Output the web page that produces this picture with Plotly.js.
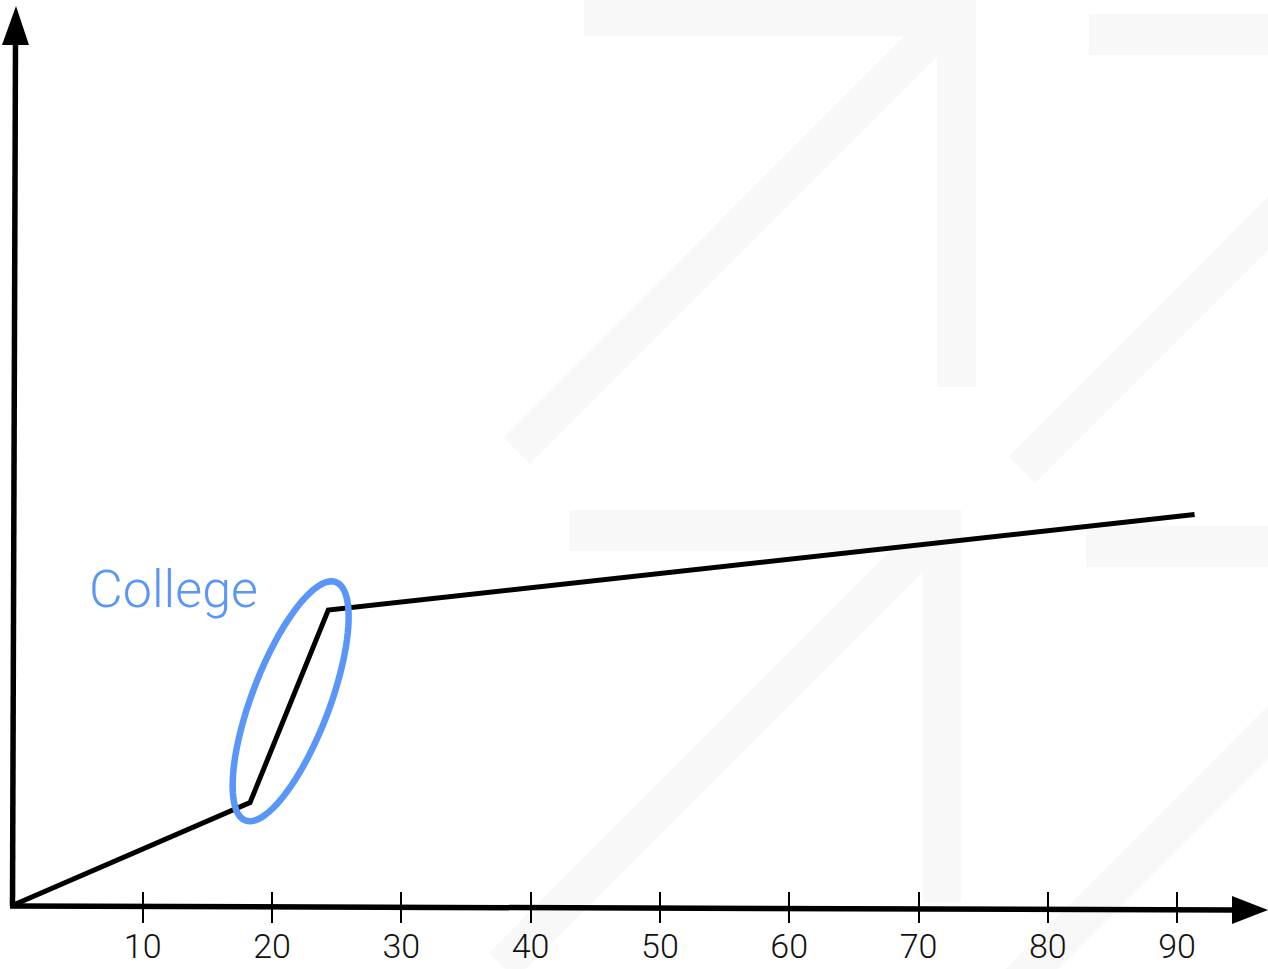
<!DOCTYPE html>
<html>
<head>
<meta charset="utf-8">
<script src="https://cdn.plot.ly/plotly-3.0.1.min.js"></script>
<style>html,body{margin:0;padding:0;background:#fff;}#chart{width:1268px;height:969px;}</style>
</head>
<body>
<div id="chart"></div>
<script>
// ---- data ----
const age = [0, 18.3, 24.35, 91.35];
const earnings = [0, 8.0, 23.05, 30.5];
const tickValues = [10, 20, 30, 40, 50, 60, 70, 80, 90];
const tickLabels = ['10', '20', '30', '40', '50', '60', '70', '80', '90'];
const highlightLabel = 'College';
const highlightSegment = [1, 2]; // indexes of the segment circled

// ---- geometry ----
const W = 1268, H = 969;
const M = {l: 0, r: 0, t: 0, b: 62};
const PW = W - M.l - M.r, PH = H - M.t - M.b;
const xr = [-13.4 / 12.93, (W - 13.4) / 12.93];
const yr = [-(PH - 905) / 12.8, 905 / 12.8];
const blue = '#5a96fa';

const px2x = px => (px - M.l) / PW;           // pixel -> paper
const py2y = py => (M.t + PH - py) / PH;
const dx2px = x => M.l + (x - xr[0]) / (xr[1] - xr[0]) * PW; // data -> pixel
const dy2py = y => M.t + PH - (y - yr[0]) / (yr[1] - yr[0]) * PH;

function polyPath(pts) {
  return 'M ' + pts.map(p => px2x(p[0]).toFixed(5) + ',' + py2y(p[1]).toFixed(5)).join(' L ') + ' Z';
}

// watermark arrows (decorative background)
const arrowBase = [[584,-5],[976,-5],[976,387],[937,387],[937,57],[530,464],[503.6,437.7],[904.6,36],[584,36]];
const arrowOffsets = [[0,0],[505,19],[-14.5,515],[502,531]];
const shapes = arrowOffsets.map(o => ({
  type: 'path', xref: 'paper', yref: 'paper', layer: 'below',
  path: polyPath(arrowBase.map(p => [p[0] + o[0], p[1] + o[1]])),
  fillcolor: '#f8f8f8', line: {width: 0}
}));

// hand-drawn axes
shapes.push({type: 'line', xref: 'paper', yref: 'paper', x0: px2x(12.5), y0: py2y(906), x1: px2x(15.5), y1: py2y(40), line: {color: '#000', width: 5.5}});
shapes.push({type: 'path', xref: 'paper', yref: 'paper', path: polyPath([[16,6],[2,45],[29,45]]), fillcolor: '#000', line: {width: 0}});
shapes.push({type: 'line', xref: 'paper', yref: 'paper', x0: px2x(10), y0: py2y(906), x1: px2x(1236), y1: py2y(910), line: {color: '#000', width: 5.5}});
shapes.push({type: 'path', xref: 'paper', yref: 'paper', path: polyPath([[1268,910],[1232,896],[1232,924]]), fillcolor: '#000', line: {width: 0}});

// ellipse around the college segment
(function () {
  const i0 = highlightSegment[0], i1 = highlightSegment[1];
  const ax = dx2px(age[i0]), ay = dy2py(earnings[i0]);
  const bx = dx2px(age[i1]), by = dy2py(earnings[i1]);
  const cx = (ax + bx) / 2 + 1.5, cy = (ay + by) / 2 - 5;
  const phi = 20.8 * Math.PI / 180, a = 127.5, b = 38.8;
  const u = [Math.sin(phi), -Math.cos(phi)], v = [Math.cos(phi), Math.sin(phi)];
  const pts = [];
  for (let k = 0; k < 96; k++) {
    const t = 2 * Math.PI * k / 96;
    pts.push([cx + a * Math.cos(t) * u[0] + b * Math.sin(t) * v[0], cy + a * Math.cos(t) * u[1] + b * Math.sin(t) * v[1]]);
  }
  shapes.push({type: 'path', xref: 'paper', yref: 'paper', path: polyPath(pts), line: {color: blue, width: 6.5}, fillcolor: 'rgba(0,0,0,0)'});
})();

const traces = [
  {x: age, y: earnings, type: 'scatter', mode: 'lines', line: {color: '#000', width: 5}, cliponaxis: false, hoverinfo: 'skip', showlegend: false},
  {x: [], y: [], xaxis: 'x2', type: 'scatter', mode: 'lines', showlegend: false}
];

const tickFont = {family: 'Roboto, "Liberation Sans", sans-serif', size: 34, color: '#111', weight: 300};
const layout = {
  width: W, height: H, margin: M,
  paper_bgcolor: '#fff', plot_bgcolor: 'rgba(0,0,0,0)',
  showlegend: false,
  xaxis: {range: xr, tickmode: 'array', tickvals: tickValues, ticktext: tickLabels, ticks: 'outside', ticklen: 15, tickwidth: 2, tickcolor: '#000',
          ticklabelstandoff: -6,
          showline: false, showgrid: false, zeroline: false, tickfont: tickFont, fixedrange: true},
  xaxis2: {range: xr, overlaying: 'x', anchor: 'y', side: 'bottom', tickmode: 'array', tickvals: tickValues, ticks: 'inside', ticklen: 15, tickwidth: 2, tickcolor: '#000',
           showticklabels: false, showline: false, showgrid: false, zeroline: false, fixedrange: true},
  yaxis: {range: yr, visible: true, showticklabels: false, ticks: '', showline: false, showgrid: false, zeroline: false, fixedrange: true},
  shapes: shapes,
  annotations: [{
    text: highlightLabel, xref: 'paper', yref: 'paper', x: px2x(87), y: py2y(589), xanchor: 'left', yanchor: 'middle', showarrow: false,
    font: {family: 'Roboto, "Liberation Sans", sans-serif', size: 52, color: blue, weight: 300}
  }]
};

Plotly.newPlot('chart', traces, layout, {displayModeBar: false, staticPlot: true});
</script>
</body>
</html>
